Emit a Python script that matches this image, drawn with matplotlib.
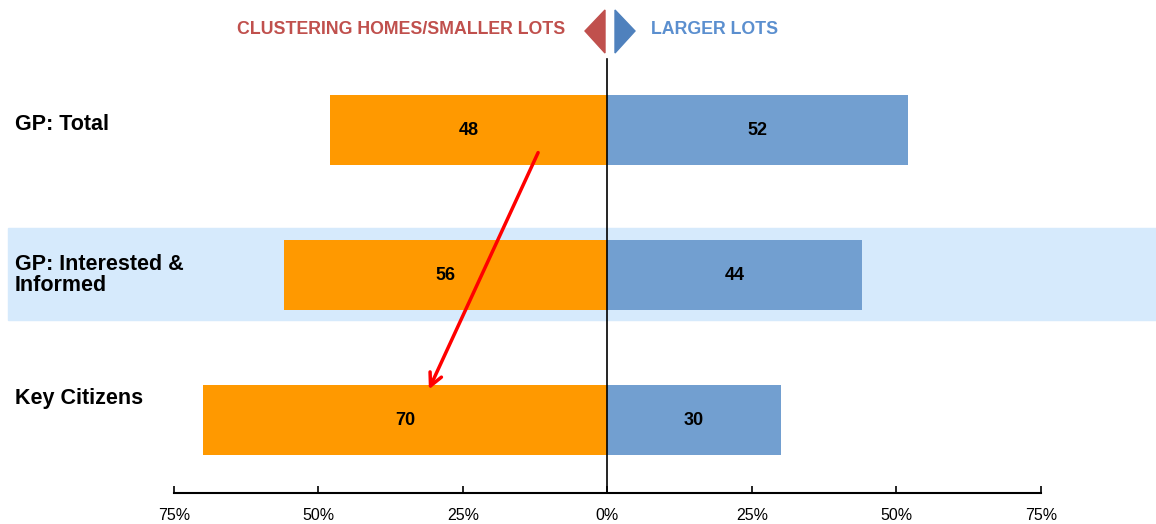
import matplotlib.pyplot as plt
from matplotlib.patches import Polygon

# data
groups = ['GP: Total', 'GP: Interested &\nInformed', 'Key Citizens']
smaller_lots = [48, 56, 70]
larger_lots = [52, 44, 30]
ticks = [-75, -50, -25, 0, 25, 50, 75]
tick_labels = ['75%', '50%', '25%', '0%', '25%', '50%', '75%']

orange = '#ff9900'
blue = '#729fd0'
red_txt = '#c0504d'
blue_txt = '#5b8fcf'

W, H = 1156, 524
fig = plt.figure(figsize=(11.56, 5.24), dpi=100)
# axes bottom sits on the axis line (y px 493)
ax = fig.add_axes([0, 31 / H, 1, 493 / H])
ax.set_xlim(-105.1, 94.9)
ax.set_ylim(2.503, -0.897)

# highlighted row band
ax.axhspan(0.676, 1.31, xmin=8 / W, xmax=1, color='#d6eafc', zorder=0)

y = range(len(groups))
ax.barh(y, [-v for v in smaller_lots], height=0.48, color=orange, zorder=2)
ax.barh(y, larger_lots, height=0.48, color=blue, zorder=2)

for i, (s, l) in enumerate(zip(smaller_lots, larger_lots)):
    ax.text(-s / 2, i, str(s), ha='center', va='center', fontsize=13,
            fontweight='bold', family='Liberation Sans', zorder=3)
    ax.text(l / 2, i, str(l), ha='center', va='center', fontsize=13,
            fontweight='bold', family='Liberation Sans', zorder=3)

label_y = [-0.035, 1.0, 1.85]
for i, g in enumerate(groups):
    ax.text(-102.5, label_y[i], g, ha='left', va='center', fontsize=15.5,
            fontweight='bold', family='Liberation Sans', linespacing=1.0)

# center line
ax.plot([0, 0], [-0.49, 2.503], color='black', lw=1.2, zorder=4,
        clip_on=False)

# bottom axis
ax.spines[['top', 'right', 'left']].set_visible(False)
ax.spines['bottom'].set_bounds(-75, 75)
ax.spines['bottom'].set_linewidth(1.5)
ax.set_xticks(ticks)
ax.set_xticklabels(tick_labels, family='Liberation Sans', fontsize=11.5)
ax.tick_params(axis='x', direction='in', length=5, width=1.2, pad=11)
ax.set_yticks([])

# arrow annotation
ax.annotate('', xy=(-31.1, 1.806), xytext=(-11.8, 0.138),
            arrowprops=dict(arrowstyle='->,head_length=0.9,head_width=0.45',
                            color='#ff0000', lw=2.5), zorder=5)

# header legend
fig.text(565 / W, 1 - 29 / H, 'CLUSTERING HOMES/SMALLER LOTS', ha='right',
         va='center', color=red_txt, fontsize=12.8, fontweight='bold',
         family='Liberation Sans')
fig.text(651 / W, 1 - 29 / H, 'LARGER LOTS', ha='left', va='center',
         color=blue_txt, fontsize=12.8, fontweight='bold',
         family='Liberation Sans')
red_tri = [(585 / W, 1 - 31 / H), (605 / W, 1 - 10 / H), (605 / W, 1 - 53 / H)]
blue_tri = [(615 / W, 1 - 10 / H), (615 / W, 1 - 53 / H), (635 / W, 1 - 31 / H)]
fig.patches.append(Polygon(red_tri, closed=True, transform=fig.transFigure,
                           color='#c0504d'))
fig.patches.append(Polygon(blue_tri, closed=True, transform=fig.transFigure,
                           color='#4f81bd'))

plt.savefig('out.png', dpi=100)
